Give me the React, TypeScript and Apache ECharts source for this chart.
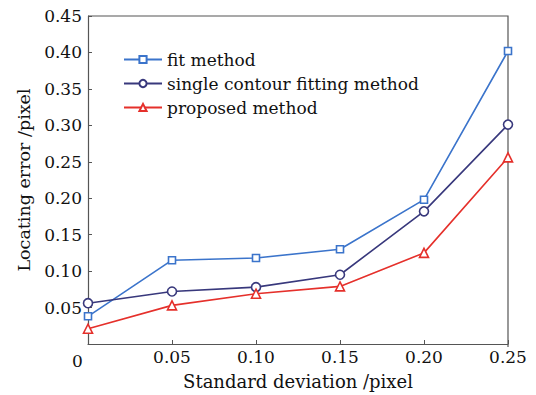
import React, { useEffect, useRef } from "react";
import * as echarts from "echarts";

const xValues = [0, 0.05, 0.1, 0.15, 0.2, 0.25];
const fitMethod = [0.038, 0.115, 0.118, 0.13, 0.198, 0.402];
const singleContour = [0.056, 0.072, 0.078, 0.095, 0.182, 0.301];
const proposed = [0.021, 0.053, 0.069, 0.079, 0.125, 0.256];
const seriesNames = ["fit method", "single contour fitting method", "proposed method"];

const FONT = "DejaVu Serif";

export default function App() {
  const ref = useRef<HTMLDivElement>(null);
  useEffect(() => {
    document.body.style.margin = "0";
    if (!ref.current) return;
    const chart = echarts.init(ref.current, undefined, { renderer: "svg" });
    const mk = (name: string, vals: number[], color: string, symbol: string, size: number) => ({
      name,
      type: "line",
      data: xValues.map((x, i) => [x, vals[i]]),
      symbol,
      symbolSize: size,
      showAllSymbol: true,
      lineStyle: { color, width: 1.6 },
      itemStyle: { color: "#fff", borderColor: color, borderWidth: 1.6 },
      emphasis: { disabled: true },
    });
    chart.setOption({
      animation: false,
      backgroundColor: "#fff",
      grid: { left: 88, right: 28, top: 16, bottom: 48 },
      legend: {
        left: 118,
        top: 46,
        orient: "vertical",
        itemWidth: 38,
        itemHeight: 9,
        itemGap: 7,
        textStyle: { fontFamily: FONT, fontSize: 17, color: "#111", lineHeight: 17 },
        data: seriesNames,
      },
      xAxis: {
        type: "value",
        min: 0,
        max: 0.25,
        interval: 0.05,
        name: "Standard deviation /pixel",
        nameLocation: "middle",
        nameGap: 28,
        nameTextStyle: { fontFamily: FONT, fontSize: 18, color: "#111" },
        axisLine: { show: true, lineStyle: { color: "#555", width: 1.2 } },
        axisTick: { show: true, inside: true, length: 4, lineStyle: { color: "#555" } },
        axisLabel: {
          fontFamily: FONT,
          fontSize: 17,
          color: "#111",
          margin: 4,
          formatter: (v: number) => (v === 0 ? "" : v.toFixed(2)),
        },
        splitLine: { show: false },
      },
      yAxis: {
        type: "value",
        min: 0,
        max: 0.45,
        interval: 0.05,
        name: "Locating error /pixel",
        nameLocation: "middle",
        nameGap: 54,
        nameTextStyle: { fontFamily: FONT, fontSize: 17.5, color: "#111" },
        axisLine: { show: true, lineStyle: { color: "#555", width: 1.2 } },
        axisTick: { show: true, inside: true, length: 4, lineStyle: { color: "#555" } },
        axisLabel: {
          fontFamily: FONT,
          fontSize: 17,
          color: "#111",
          margin: 6,
          formatter: (v: number) => (v === 0 ? "" : v.toFixed(2)),
        },
        splitLine: { show: false },
      },
      graphic: [
        {
          type: "text",
          left: 72,
          top: 352,
          style: { text: "0", fontFamily: FONT, fontSize: 17, fill: "#111" },
        },
        {
          type: "polyline",
          shape: { points: [[88, 16], [508, 16], [508, 347]] },
          style: { stroke: "#555", lineWidth: 1.2, fill: null },
          silent: true,
        },
      ],
      series: [
        mk(seriesNames[0], fitMethod, "#3b74cb", "rect", 7),
        mk(seriesNames[1], singleContour, "#38387c", "circle", 9),
        mk(seriesNames[2], proposed, "#e5302b", "triangle", 9),
      ],
    });
    return () => chart.dispose();
  }, []);
  return <div ref={ref} style={{ width: 536, height: 395 }} />;
}
